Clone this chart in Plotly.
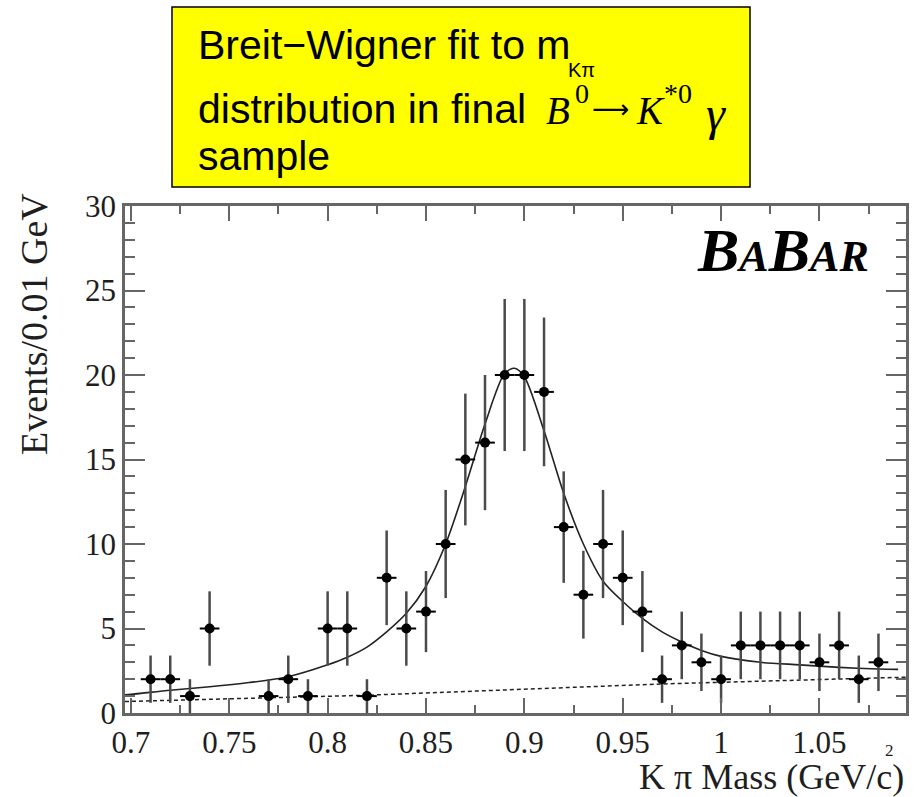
import plotly.graph_objects as go

# ---------------- data ----------------
mass = [0.71, 0.72, 0.73, 0.74, 0.77, 0.78, 0.79, 0.80, 0.81, 0.82, 0.83, 0.84,
        0.85, 0.86, 0.87, 0.88, 0.89, 0.90, 0.91, 0.92, 0.93, 0.94, 0.95, 0.96,
        0.97, 0.98, 0.99, 1.00, 1.01, 1.02, 1.03, 1.04, 1.05, 1.06, 1.07, 1.08]
events = [2, 2, 1, 5, 1, 2, 1, 5, 5, 1, 8, 5,
          6, 10, 15, 16, 20, 20, 19, 11, 7, 10, 8, 6,
          2, 4, 3, 2, 4, 4, 4, 4, 3, 4, 2, 3]
events_err = [1.4, 1.4, 1.0, 2.2, 1.0, 1.4, 1.0, 2.2, 2.2, 1.0, 2.8, 2.2,
              2.4, 3.2, 3.9, 4.0, 4.5, 4.5, 4.4, 3.3, 2.6, 3.2, 2.8, 2.4,
              1.4, 2.0, 1.7, 1.4, 2.0, 2.0, 2.0, 2.0, 1.7, 2.0, 1.4, 1.7]
bin_half_width = [0.005] * len(mass)

fit_x = [0.697, 0.70, 0.72, 0.74, 0.76, 0.78, 0.80, 0.81, 0.82, 0.83, 0.84, 0.85,
         0.86, 0.87, 0.88, 0.89, 0.895, 0.90, 0.91, 0.92, 0.93, 0.94, 0.95, 0.96,
         0.97, 0.98, 0.99, 1.00, 1.02, 1.04, 1.06, 1.08, 1.09]
fit_y = [1.08, 1.10, 1.35, 1.55, 1.80, 2.15, 2.85, 3.30, 3.90, 4.80, 5.90, 7.50,
         10.0, 13.4, 17.1, 20.1, 20.4, 19.9, 16.7, 13.0, 10.0, 7.8, 6.6, 5.6,
         4.8, 4.2, 3.7, 3.35, 3.0, 2.85, 2.7, 2.6, 2.58]

bkg_x = [0.697, 0.82, 0.97, 1.094]
bkg_y = [0.68, 1.05, 1.72, 2.12]

x_tickvals = [0.7, 0.75, 0.8, 0.85, 0.9, 0.95, 1.0, 1.05]
x_ticktext = ["0.7", "0.75", "0.8", "0.85", "0.9", "0.95", "1", "1.05"]
y_tickvals = [0, 5, 10, 15, 20, 25, 30]
y_ticktext = ["0", "5", "10", "15", "20", "25", "30"]

# ---------------- layout helpers (pixel -> paper) ----------------
W, H = 920, 797
L, R, T, B = 125, 906, 206, 713


def px(x):
    return (x - L) / (R - L)


def py(y):
    return (B - y) / (B - T)


SERIF = "Liberation Serif, Times New Roman, serif"
SANS = "Liberation Sans, Arial, sans-serif"
ARROWFONT = "DejaVu Sans, sans-serif"
AXC = "#666666"
TXT = "#1e1e1e"

fig = go.Figure()

fig.add_trace(go.Scatter(
    x=bkg_x, y=bkg_y, mode="lines",
    line=dict(color="#222222", width=1.5, dash="4px,3px"),
    hoverinfo="skip", showlegend=False))

fig.add_trace(go.Scatter(
    x=fit_x, y=fit_y, mode="lines",
    line=dict(color="#222222", width=1.6, shape="spline", smoothing=0.8),
    hoverinfo="skip", showlegend=False))

fig.add_trace(go.Scatter(
    x=mass, y=events, mode="markers",
    marker=dict(symbol="circle", size=10, color="black"),
    error_y=dict(type="data", array=events_err, visible=True,
                 color="#4a4a4a", thickness=2.5, width=0),
    error_x=dict(type="data", array=bin_half_width, visible=True,
                 color="black", thickness=2, width=0),
    showlegend=False))

fig.update_xaxes(
    range=[0.697, 1.094], showgrid=False, zeroline=False,
    showline=True, linecolor=AXC, linewidth=2.5, mirror="allticks",
    ticks="inside", ticklen=15, tickwidth=2, tickcolor=AXC,
    tickvals=x_tickvals, ticktext=x_ticktext,
    tickfont=dict(family=SERIF, size=31, color=TXT),
    minor=dict(ticks="inside", dtick=0.025, tick0=0.7, ticklen=8,
               tickwidth=2, tickcolor=AXC, showgrid=False),
)
fig.update_yaxes(
    range=[0, 30], showgrid=False, zeroline=False,
    showline=True, linecolor=AXC, linewidth=2.5, mirror="allticks",
    ticks="inside", ticklen=20, tickwidth=2, tickcolor=AXC,
    tickvals=y_tickvals, ticktext=y_ticktext,
    tickfont=dict(family=SERIF, size=31, color=TXT),
    minor=dict(ticks="inside", dtick=1, tick0=0, ticklen=10,
               tickwidth=2, tickcolor=AXC, showgrid=False),
)


def note(text, x, y, family, size, xanchor="left", color="black", **kw):
    d = dict(text=text, x=px(x), y=py(y), xanchor=xanchor, yanchor="middle",
             font=dict(family=family, size=size, color=color))
    d.update(kw)
    return d


annotations = [
    # axis titles
    note("Events/0.01 GeV", 34, 324, SERIF, 38, xanchor="center",
         color=TXT, textangle=-90),
    note("K \u03c0 Mass (GeV/c)", 906, 777, SERIF, 36, xanchor="right", color=TXT),
    note("2", 889, 750, SERIF, 17, xanchor="center", color=TXT),
    # BaBar logo
    note("<b><i>B<span style='font-size:44px'>A</span>B"
         "<span style='font-size:44px'>AR</span></i></b>",
         695, 250, SERIF, 62),
    # yellow caption box text
    note("Breit\u2212Wigner fit to m", 196, 45, SANS, 41),
    note("K\u03c0", 566, 70, SANS, 20),
    note("distribution in final", 196, 109, SANS, 41),
    note("sample", 196, 156, SANS, 41),
    # B0 -> K*0 gamma
    note("<i>B</i>", 544, 111, SERIF, 39),
    note("0", 573, 94, SERIF, 28),
    note("\u27f6", 590, 109, ARROWFONT, 26),
    note("<i>K</i>", 634, 111, SERIF, 39),
    note("*0", 662, 94, SERIF, 28),
    note("<i>\u03b3</i>", 704, 114, SERIF, 48),
]
for a in annotations:
    a.update(xref="paper", yref="paper", showarrow=False)

fig.update_layout(
    width=W, height=H, autosize=False,
    margin=dict(l=L, r=W - R, t=T, b=H - B, pad=0),
    paper_bgcolor="white", plot_bgcolor="white",
    annotations=annotations,
    shapes=[dict(type="rect", xref="paper", yref="paper",
                 x0=px(172), x1=px(750), y0=py(187), y1=py(7),
                 fillcolor="#FFFF00", line=dict(color="black", width=1.5),
                 layer="below")],
)

fig.write_html("out.html")
